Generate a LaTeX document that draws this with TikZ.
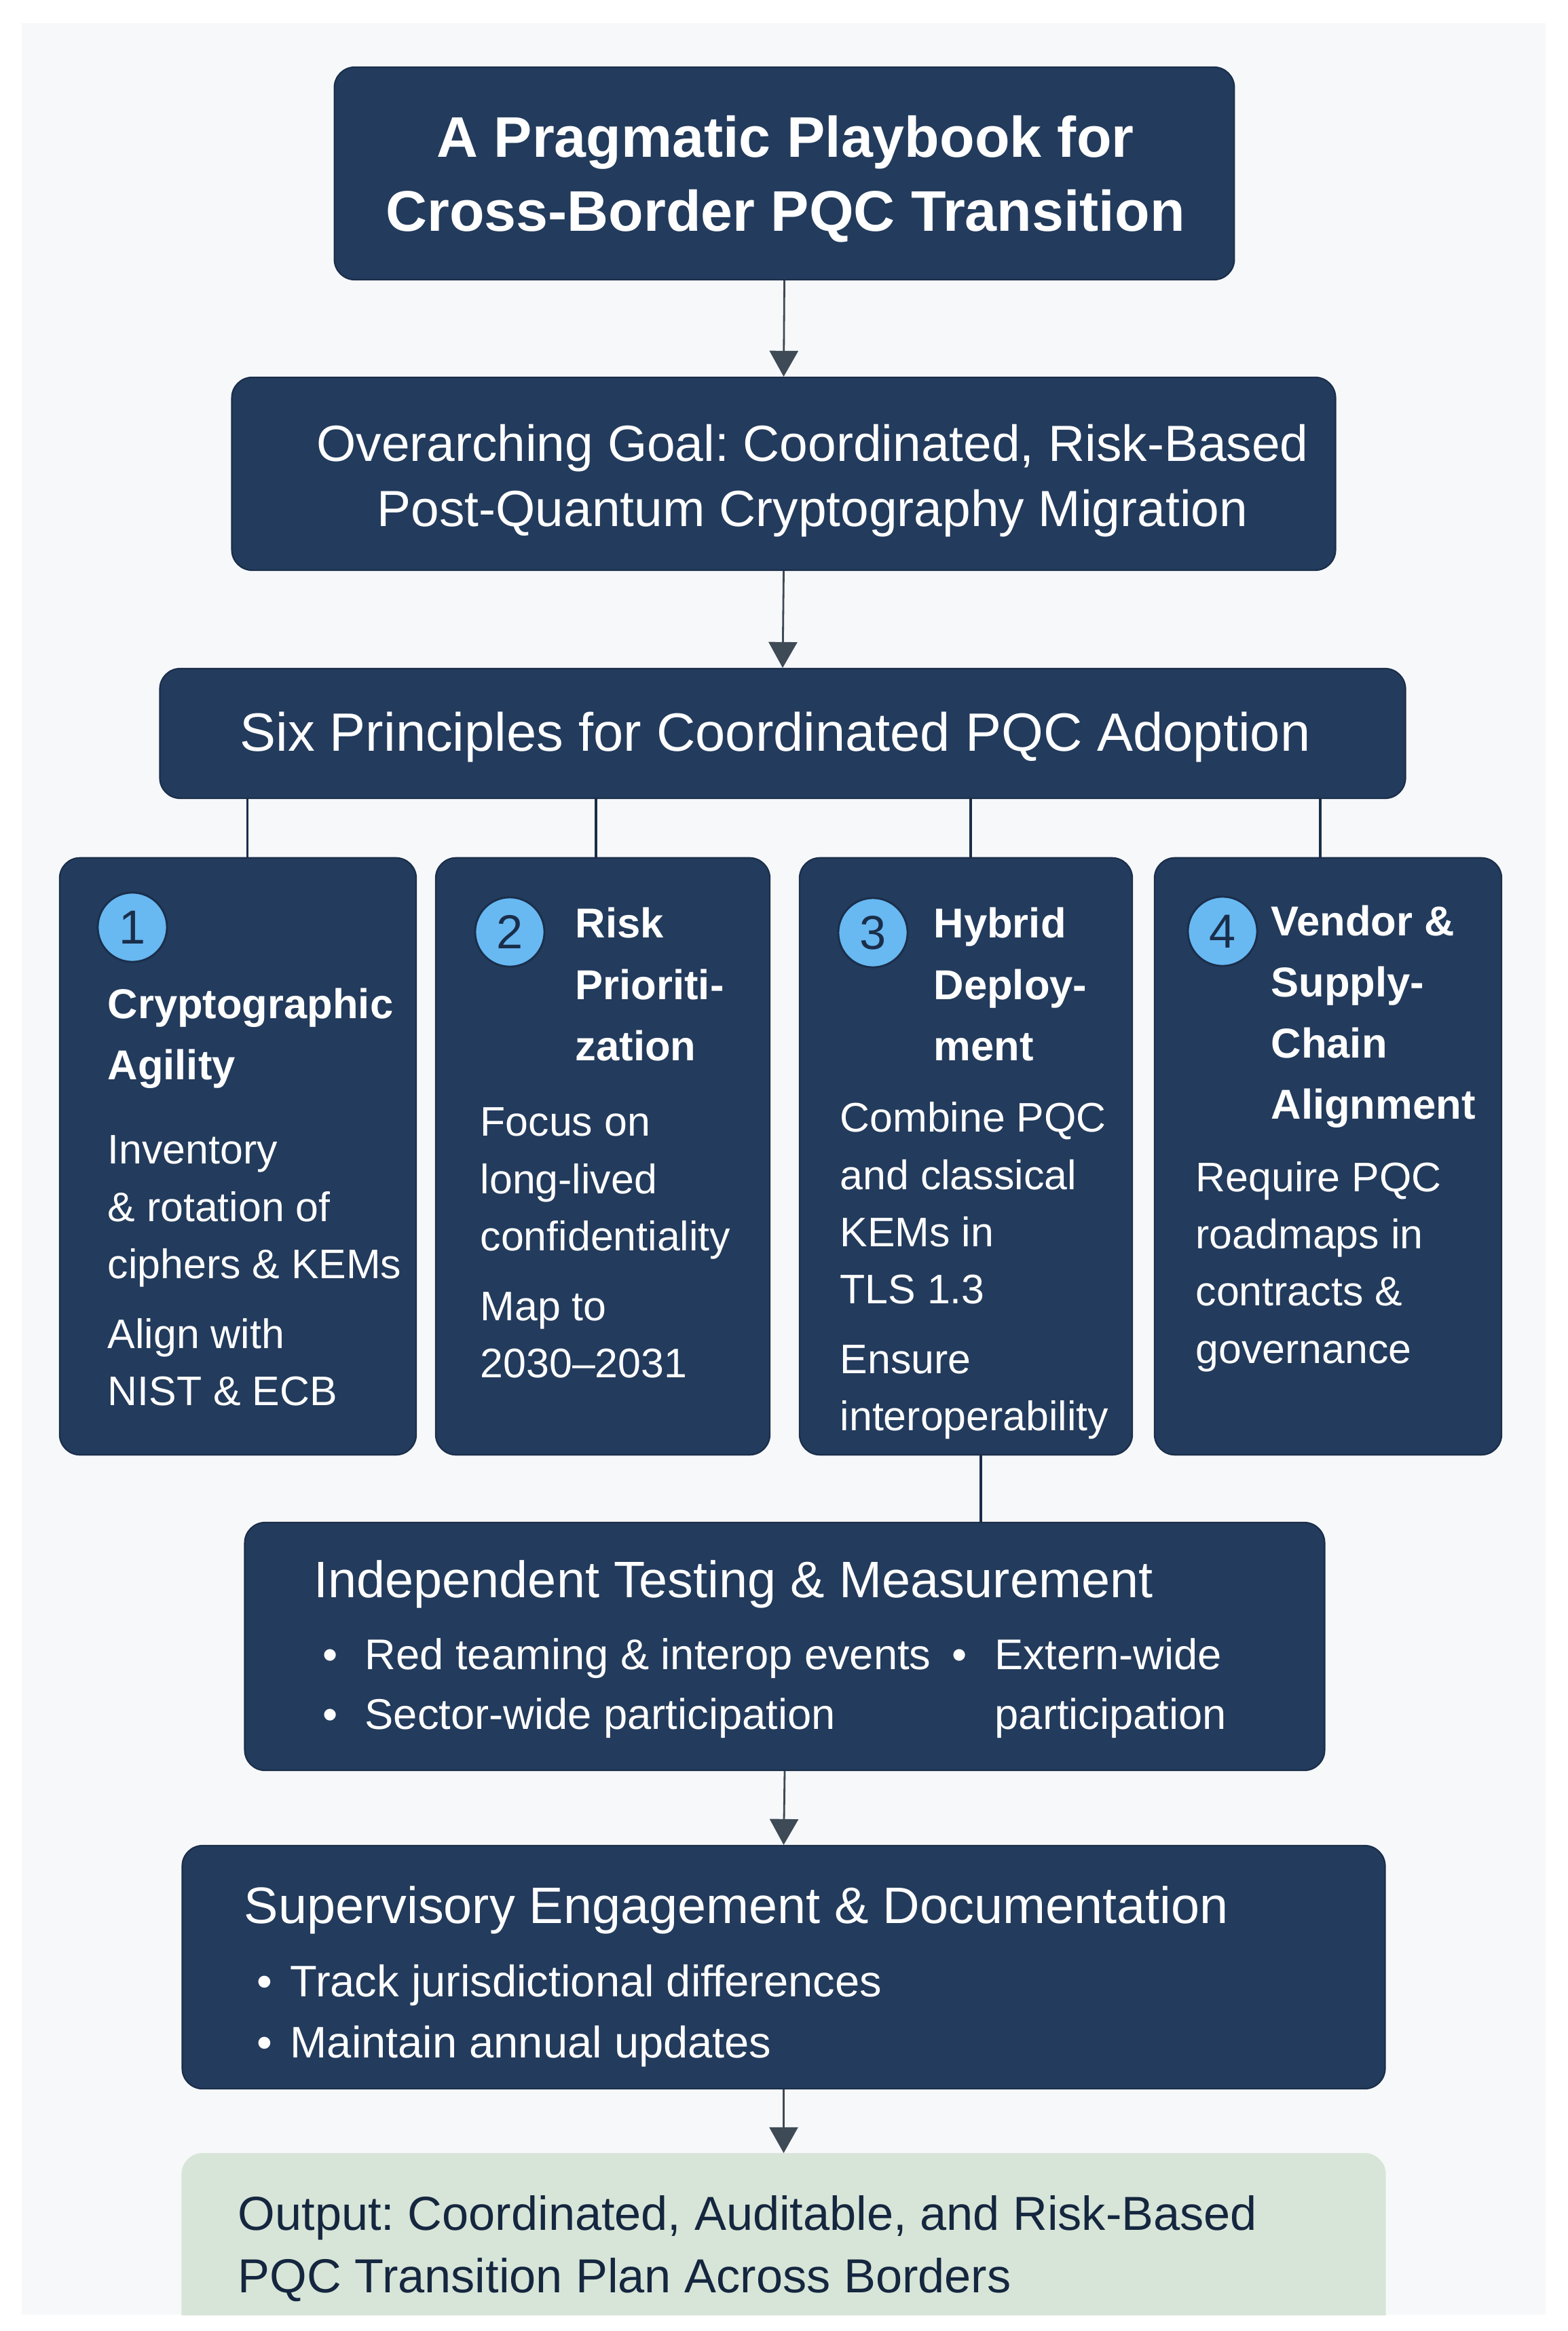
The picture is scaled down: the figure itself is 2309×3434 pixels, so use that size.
\documentclass[tikz,border=0pt]{standalone}
\usepackage{fontspec}
\setmainfont{Liberation Sans}
\usetikzlibrary{arrows.meta}
\frenchspacing
\definecolor{cardblue}{HTML}{233B5C}
\definecolor{cardedge}{HTML}{1A2E4A}
\definecolor{badgeblue}{HTML}{68B8F2}
\definecolor{paperbg}{HTML}{F7F8FA}
\definecolor{outgreen}{HTML}{D7E5D8}
\definecolor{outtext}{HTML}{15263F}
\definecolor{arrowgray}{HTML}{3E4A55}
\tikzstyle{box}=[rectangle, rounded corners=0.3cm, fill=cardblue, draw=cardedge, line width=0.6pt, inner sep=0pt, anchor=center]
\tikzstyle{outbox}=[box, fill=outgreen, draw=outgreen]
\tikzstyle{annot}=[align=left, inner sep=0pt, anchor=west, text=white]
\tikzstyle{head}=[annot, font=\bfseries\fontsize{17.5}{25.6}\selectfont]
\tikzstyle{body}=[annot, font=\fontsize{17.3}{24}\selectfont]
\tikzstyle{badge}=[circle, fill=badgeblue, draw=cardedge, line width=0.8pt, minimum size=1.02cm, inner sep=0pt, text=cardedge, font=\fontsize{20}{20}\selectfont]
\tikzstyle{link}=[draw=cardedge, line width=0.9pt]
\tikzstyle{flow}=[draw=arrowgray, line width=0.8pt, -{Triangle[width=0.42cm,length=0.38cm]}]
\newcommand{\bul}[1]{\makebox[#1][l]{•}}
\newcommand{\drawcards}[0]
{
  \node[box, minimum width=5.25cm, minimum height=8.79cm](card1) at (350.5,1703.5){};
  \node[box, minimum width=4.92cm, minimum height=8.79cm](card2) at (888,1703.5){};
  \node[box, minimum width=4.90cm, minimum height=8.79cm](card3) at (1423,1703.5){};
  \node[box, minimum width=5.11cm, minimum height=8.79cm](card4) at (1956.5,1703.5){};
  \node[badge](badge1) at (195,1366){1};
  \node[badge](badge2) at (751,1373){2};
  \node[badge](badge3) at (1286,1374){3};
  \node[badge](badge4) at (1801,1372){4};
}

\begin{document}
\begin{tikzpicture}[x=0.01cm, y=-0.01cm]
	\useasboundingbox (0,0) rectangle (2309,3434);
	\fill[paperbg] (32,34) rectangle (2277,3410);

	\node[box, minimum width=13.25cm, minimum height=3.13cm](title) at (1155.5,255.5){};
	\node[box, minimum width=16.25cm, minimum height=2.84cm](goal) at (1154.5,698){};
	\node[box, minimum width=18.34cm, minimum height=1.91cm](six) at (1153,1080.5){};

	\drawcards{}

	\node[box, minimum width=15.9cm, minimum height=3.65cm](test) at (1156,2425.5){};
	\node[box, minimum width=17.71cm, minimum height=3.58cm](super) at (1154.5,2898){};
	\begin{scope}
		\clip (0,0) rectangle (2309,3410);
		\node[outbox, minimum width=17.71cm, minimum height=4cm](output) at (1154.5,3373){};
	\end{scope}

	% texts
	\node[annot, align=center, anchor=center, font=\bfseries\fontsize{24}{31}\selectfont](titletxt) at (1157,264){A Pragmatic Playbook for\\Cross-Border PQC Transition};
	\node[annot, align=center, anchor=center, font=\fontsize{21.3}{27.3}\selectfont](goaltxt) at (1197,708){Overarching Goal: Coordinated, Risk-Based\\Post-Quantum Cryptography Migration};
	\node[annot, anchor=center, font=\fontsize{22.6}{27}\selectfont](sixtxt) at (1142,1086){Six Principles for Coordinated PQC Adoption};

	\node[head](head1) at (158,1530){Cryptographic\\Agility};
	\node[body](body1) at (158,1872){Inventory\\\& rotation of\\ciphers \& KEMs\\[0.18cm]Align with\\NIST \& ECB};
	\node[head](head2) at (847,1450){Risk\\Prioriti-\\zation};
	\node[body](body2) at (707,1831){Focus on\\long-lived\\confidentiality\\[0.18cm]Map to\\2030--2031};
	\node[head](head3) at (1375,1450){Hybrid\\Deploy-\\ment};
	\node[body](body3) at (1237,1872){Combine PQC\\and classical\\KEMs in\\TLS 1.3\\[0.18cm]Ensure\\interoperability};
	\node[head](head4) at (1872,1498){Vendor \&\\Supply-\\Chain\\Alignment};
	\node[body](body4) at (1761,1866){Require PQC\\roadmaps in\\contracts \&\\governance};

	\node[annot, font=\fontsize{21.5}{26}\selectfont](testhead) at (462,2334){Independent Testing \& Measurement};
	\node[annot, font=\fontsize{18}{25}\selectfont](testleft) at (475,2487){\bul{0.62cm}Red teaming \& interop events\\\bul{0.62cm}Sector-wide participation};
	\node[annot, font=\fontsize{18}{25}\selectfont](testright) at (1402,2487){\bul{0.63cm}Extern-wide\\\hspace*{0.63cm}participation};

	\node[annot, font=\fontsize{21.5}{26}\selectfont](superhead) at (359,2814){Supervisory Engagement \& Documentation};
	\node[annot, font=\fontsize{18.5}{25.6}\selectfont](superlist) at (378,2970){\bul{0.49cm}Track jurisdictional differences\\\bul{0.49cm}Maintain annual updates};

	\node[annot, text=outtext, font=\fontsize{20}{26.2}\selectfont](outtxt) at (350,3313){Output: Coordinated, Auditable, and Risk-Based\\PQC Transition Plan Across Borders};

	% connectors
	\draw[flow] (title.south) -- (goal.north);
	\draw[flow] (goal.south) -- (six.north);
	\foreach \c/\s in {card1/0.14cm,card2/-0.10cm,card3/0.07cm,card4/-0.115cm}
		\draw[link] ([xshift=\s]\c.north |- six.south) -- ([xshift=\s]\c.north);
	\draw[link] ([xshift=0.22cm]card3.south) -- ([xshift=0.22cm]card3.south |- test.north);
	\draw[flow] (test.south) -- (super.north);
	\draw[flow] (super.south) -- (output.north);
\end{tikzpicture}
\end{document}
